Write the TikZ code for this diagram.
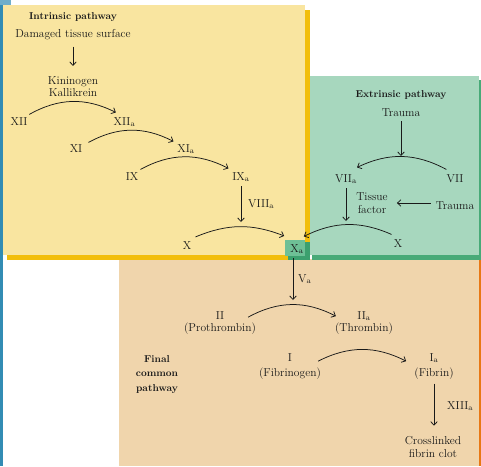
\documentclass[tikz,border=0pt]{standalone}
\usetikzlibrary{arrows.meta}
\definecolor{yel}{RGB}{249,229,160}
\definecolor{yelS}{RGB}{242,190,12}
\definecolor{tea}{RGB}{167,215,190}
\definecolor{teaS}{RGB}{72,170,120}
\definecolor{pea}{RGB}{240,213,172}
\definecolor{orS}{RGB}{232,120,20}
\definecolor{xaL}{RGB}{110,192,150}
\definecolor{xaD}{RGB}{60,160,110}
\definecolor{blu}{RGB}{50,140,180}
\definecolor{ink}{RGB}{25,25,25}
\begin{document}
\begin{tikzpicture}[x=1pt,y=-1pt,
  font=\fontsize{11.5}{12.5}\selectfont,
  txt/.style={inner sep=0pt, text=ink, anchor=base},
  lbl/.style={inner sep=0pt, text=ink, anchor=base west},
  ttl/.style={inner sep=0pt, text=ink, anchor=base, font=\fontsize{10}{12}\selectfont\bfseries},
  con/.style={draw=ink, line width=0.75pt, -{Straight Barb[length=3.5pt,width=6.5pt]}}]
\useasboundingbox (0,0) rectangle (481,466);
% backgrounds
\fill[blu] (0,0) rectangle (3,466);
\fill[blu!70] (0,0) rectangle (11,5);
\fill[orS] (119,259) rectangle (481,466);
\fill[pea] (119,259) rectangle (479,466);
\fill[teaS] (312,80) rectangle (481,259.5);
\fill[tea] (309.5,76) rectangle (478.5,255);
\fill[yelS] (7,10) rectangle (309.5,259.5);
\fill[yel] (3,5) rectangle (305,255);
\fill[xaD] (288,242) rectangle (309.5,259.5);
\fill[xaL] (285,240) rectangle (305,256);
% intrinsic
\node[ttl] (t1) at (73,19) {Intrinsic pathway};
\node[txt] (dam) at (73,37) {Damaged tissue surface};
\node[txt] (kin) at (73,84) {Kininogen};
\node[txt] (kal) at (73,96) {Kallikrein};
\node[txt] (xii) at (19,125) {XII};
\node[txt] (xiia) at (124.5,125) {XII\textsubscript{a}};
\node[txt] (xi) at (76,152) {XI};
\node[txt] (xia) at (186,152) {XI\textsubscript{a}};
\node[txt] (ix) at (132,180) {IX};
\node[txt] (ixa) at (241,180) {IX\textsubscript{a}};
\node[lbl] (viii) at (248,207) {VIII\textsubscript{a}};
\node[txt] (x1) at (187,249) {X};
\node[txt] (xa) at (297,252) {X\textsubscript{a}};
\coordinate (m1) at (241,222);
% extrinsic
\node[ttl] (t2) at (401,97) {Extrinsic pathway};
\node[txt] (tr1) at (401,116) {Trauma};
\node[txt] (vii) at (455,182) {VII};
\node[txt] (viia) at (346,182) {VII\textsubscript{a}};
\node[inner sep=0pt, text=ink, align=center] (tf) at (372,203) {Tissue\\factor};
\node[txt] (tr2) at (455,209) {Trauma};
\node[txt] (x2) at (398,247) {X};
\coordinate (m2) at (401,156);
\coordinate (m3) at (346,221);
% final common
\node[lbl] (va) at (298,282) {V\textsubscript{a}};
\node[txt] (ii) at (220,319) {II};
\node[txt] (pro) at (220,331) {(Prothrombin)};
\node[txt] (iia) at (364,319) {II\textsubscript{a}};
\node[txt] (thr) at (364,331) {(Thrombin)};
\node[ttl] (f1) at (157,362) {Final};
\node[ttl] (f2) at (157,376) {common};
\node[ttl] (f3) at (157,391) {pathway};
\node[txt] (i) at (290,361) {I};
\node[txt] (fbg) at (290,376) {(Fibrinogen)};
\node[txt] (ia) at (434,361) {I\textsubscript{a}};
\node[txt] (fbn) at (434,376) {(Fibrin)};
\node[lbl] (xiii) at (447,409) {XIII\textsubscript{a}};
\node[txt] (cl1) at (433,444) {Crosslinked};
\node[txt] (cl2) at (433,457) {fibrin clot};
\coordinate (m4) at (293,300);
% connectors
\draw[con, shorten <=7pt, shorten >=10pt] (dam.south) -- (kin.north);
\draw[con] ([shift={(1.6,-2.5)}]xii.north east) to[bend left=28] ([shift={(2.4,-4.5)}]xiia.north west);
\draw[con] ([shift={(6,-1.5)}]xi.north east) to[bend left=28] ([shift={(-3.7,-2.5)}]xia.north west);
\draw[con] ([shift={(2,-2.5)}]ix.north east) to[bend left=28] ([shift={(-3.7,-3.5)}]ixa.north west);
\draw[con, shorten <=4pt] (ixa.south) -- (m1);
\draw[con] ([shift={(4,-4)}]x1.north east) to[bend left=22] ([shift={(-6,-8)}]xa.north west);
\draw[con, shorten <=5pt] (tr1.south) -- (m2);
\draw[con] ([shift={(0,-4.5)}]vii.north west) to[bend right=27] ([shift={(0,-6.5)}]viia.north east);
\draw[con, shorten <=4pt] (viia.south) -- (m3);
\draw[con, shorten <=5pt, shorten >=9pt] (tf.east -| tr2.west) -- (tf.east);
\draw[con] ([shift={(-2,-4.5)}]x2.north west) to[bend right=25] ([shift={(0,-7.5)}]xa.north east);
\draw[con, shorten <=4pt] (xa.south -| m4) -- (m4);
\draw[con] ([shift={(-8,-5)}]pro.north east) to[bend left=28] ([shift={(1,-6)}]thr.north west);
\draw[con] ([shift={(-3,-6)}]fbg.north east) to[bend left=27] ([shift={(-8,-6)}]fbn.north west);
\draw[con, shorten <=4.5pt, shorten >=10pt] (fbn.south -| ia) -- (cl1.north -| ia);
\end{tikzpicture}
\end{document}
